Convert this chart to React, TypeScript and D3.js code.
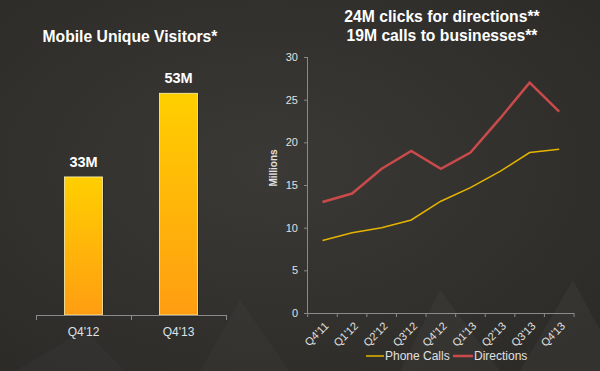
import React from 'react';
import * as d3 from 'd3';

// left chart: mobile unique visitors (millions)
const barCats = ["Q4'12", "Q4'13"];
const barValues = [33, 53];
const barLabels = ['33M', '53M'];

// right chart: quarterly clicks / calls (millions)
const quarters = ["Q4'11", "Q1'12", "Q2'12", "Q3'12", "Q4'12", "Q1'13", "Q2'13", "Q3'13", "Q4'13"];
const phoneCalls = [8.5, 9.4, 10.0, 10.9, 13.1, 14.7, 16.6, 18.8, 19.2];
const directions = [13.0, 14.0, 16.9, 19.0, 16.9, 18.8, 22.8, 27.0, 23.6];
const yTicks = [0, 5, 10, 15, 20, 25, 30];

const FONT = '"Liberation Sans", Arial, sans-serif';

const App = () => {
  const W = 600;
  const H = 371;

  // left bars
  const xBar = d3.scaleBand().domain(barCats).range([36, 226]).padding(0);
  const yBar = d3.scaleLinear().domain([0, 60]).range([315, 64]);
  const barW = xBar.bandwidth() * 0.4;

  // right lines
  const xL = d3.scaleBand().domain(quarters).range([307.7, 574]).padding(0);
  const yL = d3.scaleLinear().domain([0, 30]).range([313, 57]);
  const cx = (q: string) => (xL(q) as number) + xL.bandwidth() / 2;
  const line = d3.line<number>()
    .x((_, i) => cx(quarters[i]))
    .y((d) => yL(d));

  return (
    <svg width={W} height={H} style={{ position: 'absolute', left: 0, top: 0 }} fontFamily={FONT}>
      <defs>
        <radialGradient id="bg" cx="0.45" cy="0.45" r="0.7">
          <stop offset="0" stopColor="#3b3935" />
          <stop offset="1" stopColor="#2c2b28" />
        </radialGradient>
        <linearGradient id="barFill" x1="0" y1="0" x2="0" y2="1">
          <stop offset="0" stopColor="#ffcf00" />
          <stop offset="1" stopColor="#ff9d12" />
        </linearGradient>
      </defs>
      <rect width={W} height={H} fill="url(#bg)" />
      {/* faint decorative triangles */}
      <polygon points="15,371 85,330 125,371" fill="#ffffff" opacity={0.025} />
      <polygon points="400,371 440,290 500,371" fill="#ffffff" opacity={0.03} />
      <polygon points="520,371 573,280 600,330 600,371" fill="#ffffff" opacity={0.035} />
      <polygon points="200,371 240,300 290,371" fill="#ffffff" opacity={0.02} />

      {/* left chart */}
      <text x={130} y={42} textAnchor="middle" fill="#ffffff" fontSize={15.7} fontWeight="bold">
        Mobile Unique Visitors*
      </text>
      {barCats.map((c, i) => {
        const x = (xBar(c) as number) + (xBar.bandwidth() - barW) / 2;
        const y = yBar(barValues[i]);
        return (
          <g key={c}>
            <rect x={x + 1.5} y={y + 1.5} width={barW} height={yBar(0) - y} fill="#000" opacity={0.25} />
            <rect x={x} y={y} width={barW} height={yBar(0) - y} fill="url(#barFill)" stroke="#fff3b0" strokeWidth={0.8} />
            <text x={x + barW / 2} y={y - 10} textAnchor="middle" fill="#ffffff" fontSize={14.5} fontWeight="bold">
              {barLabels[i]}
            </text>
            <text x={x + barW / 2} y={336} textAnchor="middle" fill="#dde2ea" fontSize={12}>
              {c}
            </text>
          </g>
        );
      })}
      <line x1={36} x2={226} y1={315.5} y2={315.5} stroke="#8a8a8a" />
      {[36, 131, 226].map((t) => (
        <line key={t} x1={t + 0.5} x2={t + 0.5} y1={315} y2={320} stroke="#8a8a8a" />
      ))}

      {/* right chart */}
      <text x={442} y={22} textAnchor="middle" fill="#ffffff" fontSize={15.7} fontWeight="bold">
        24M clicks for directions**
      </text>
      <text x={442} y={41} textAnchor="middle" fill="#ffffff" fontSize={15.7} fontWeight="bold">
        19M calls to businesses**
      </text>
      <text transform={`translate(273,168) rotate(-90)`} textAnchor="middle" dy="0.35em" fill="#e0e0e0" fontSize={10} fontWeight="bold">
        Millions
      </text>
      <line x1={307.5} x2={307.5} y1={yL(30)} y2={yL(0)} stroke="#8a8a8a" />
      {yTicks.map((t) => (
        <g key={t}>
          <line x1={304} x2={307.5} y1={yL(t) + 0.5} y2={yL(t) + 0.5} stroke="#8a8a8a" />
          <text x={298} y={yL(t)} dy="0.35em" textAnchor="end" fill="#e0e0e0" fontSize={11}>
            {t}
          </text>
        </g>
      ))}
      <line x1={307.7} x2={574} y1={yL(0) + 0.5} y2={yL(0) + 0.5} stroke="#8a8a8a" />
      {[...quarters.map((q) => xL(q) as number), 574].map((t, i) => (
        <line key={i} x1={t} x2={t} y1={yL(0)} y2={yL(0) + 4} stroke="#8a8a8a" />
      ))}
      {quarters.map((q) => (
        <text key={q} transform={`translate(${cx(q) + 4},${yL(0) + 11}) rotate(-45)`} textAnchor="end" dy="0.35em" fill="#e0e0e0" fontSize={11}>
          {q}
        </text>
      ))}
      <path d={line(phoneCalls) as string} fill="none" stroke="#e6b400" strokeWidth={1.5} />
      <path d={line(directions) as string} fill="none" stroke="#c94a4a" strokeWidth={2.5} />

      {/* legend */}
      <line x1={366} x2={384} y1={356} y2={356} stroke="#e6b400" strokeWidth={1.5} />
      <text x={385} y={356} dy="0.35em" fill="#e0e0e0" fontSize={12}>Phone Calls</text>
      <line x1={453} x2={473} y1={356} y2={356} stroke="#c94a4a" strokeWidth={2.5} />
      <text x={474} y={356} dy="0.35em" fill="#e0e0e0" fontSize={12}>Directions</text>
    </svg>
  );
};

export default App;
